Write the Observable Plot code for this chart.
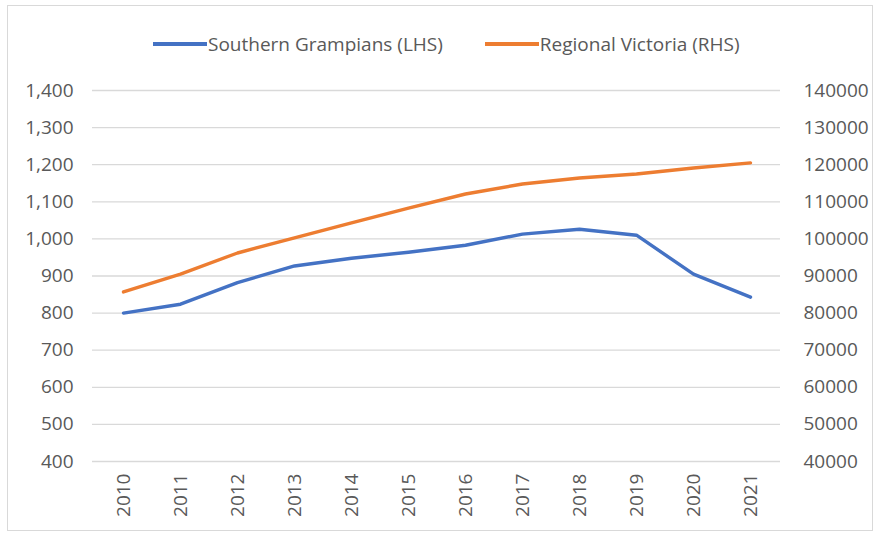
<!DOCTYPE html>
<html>
<head>
<meta charset="utf-8">
<script src="https://cdn.jsdelivr.net/npm/d3@7"></script>
<script src="https://cdn.jsdelivr.net/npm/@observablehq/plot@0.6"></script>
<style>
  html, body { margin: 0; padding: 0; background: #fff; }
  #wrap { position: relative; width: 875px; height: 534px; overflow: hidden; font-family: "Open Sans", sans-serif; }
  #frame { position: absolute; left: 7px; top: 5px; width: 866px; height: 526px; border: 1px solid #d9d9d9; box-sizing: border-box; pointer-events: none; }
  #legend { position: absolute; top: 31px; left: 153px; display: flex; gap: 42px; font-size: 19px; color: #595959; white-space: nowrap; }
  .item { display: flex; align-items: center; }
  .sw { display: inline-block; width: 54px; height: 4px; margin-right: 1px; }
  #chart { position: absolute; left: 0; top: 0; }
</style>
</head>
<body>
<div id="wrap">
  <div id="frame"></div>
  <div id="legend"></div>
  <div id="chart"></div>
</div>
<script>
const years = ["2010","2011","2012","2013","2014","2015","2016","2017","2018","2019","2020","2021"];
const southernGrampians = [800, 824, 882, 927, 948, 964, 983, 1013, 1026, 1010, 905, 843];
const regionalVictoria = [85700, 90500, 96200, 100300, 104300, 108300, 112100, 114800, 116400, 117500, 119100, 120500];
const leftTicks = [400, 500, 600, 700, 800, 900, 1000, 1100, 1200, 1300, 1400];
const rightTicks = [40000, 50000, 60000, 70000, 80000, 90000, 100000, 110000, 120000, 130000, 140000];
const seriesNames = ["Southern Grampians (LHS)", "Regional Victoria (RHS)"];
const seriesColors = ["#4472C4", "#ED7D31"];
const rhsRatio = 100; // RHS value / LHS value

const rows = years.map((y, i) => ({year: y, lhs: southernGrampians[i], rhs: regionalVictoria[i]}));

const legend = document.getElementById("legend");
seriesNames.forEach((n, i) => {
  const it = document.createElement("div");
  it.className = "item";
  const sw = document.createElement("span");
  sw.className = "sw";
  sw.style.background = seriesColors[i];
  const t = document.createElement("span");
  t.textContent = n;
  it.appendChild(sw); it.appendChild(t);
  legend.appendChild(it);
});

const chart = Plot.plot({
  width: 875,
  height: 534,
  marginTop: 90,
  marginBottom: 73,
  marginLeft: 92,
  marginRight: 95,
  style: {fontSize: "19px", fontFamily: "Open Sans, sans-serif", color: "#595959", background: "transparent"},
  x: {type: "point", domain: years, padding: 0.5, label: null},
  y: {domain: [400, 1400], label: null},
  marks: [
    Plot.ruleY(leftTicks, {stroke: "#d9d9d9", strokeWidth: 1.3}),
    Plot.axisY(leftTicks, {tickSize: 0, tickPadding: 19, tickFormat: d3.format(","), label: null}),
    Plot.text(rightTicks, {y: d => d / rhsRatio, text: d => String(d), frameAnchor: "right", textAnchor: "start", dx: 23, fill: "#595959"}),
    Plot.axisX({tickRotate: -90, tickSize: 0, tickPadding: 12, label: null}),
    Plot.line(rows, {x: "year", y: d => d.rhs / rhsRatio, stroke: seriesColors[1], strokeWidth: 3.4}),
    Plot.line(rows, {x: "year", y: "lhs", stroke: seriesColors[0], strokeWidth: 3.4})
  ]
});
document.getElementById("chart").appendChild(chart);
</script>
</body>
</html>
